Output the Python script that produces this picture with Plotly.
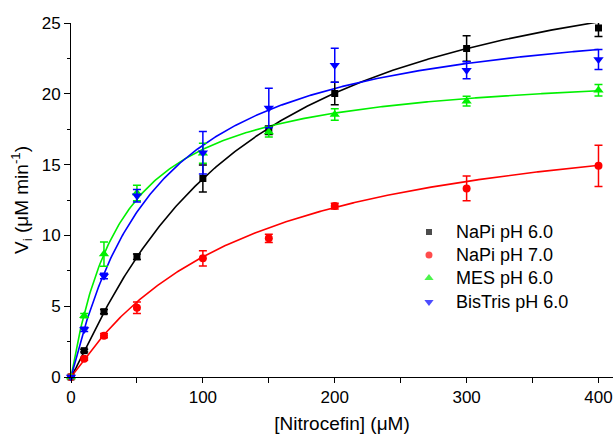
import numpy as np
import plotly.graph_objects as go

# ---- data ----
substrate = [0, 10, 25, 50, 100, 150, 200, 300, 400]

series_names = ["NaPi pH 6.0", "NaPi pH 7.0", "MES pH 6.0", "BisTris pH 6.0"]

napi60 = [0, 1.86, 4.61, 8.49, 14.02, 17.43, 20.02, 23.2, 24.65]
napi60_err = [0, 0.1, 0.15, 0.2, 0.95, 0.3, 0.8, 0.9, 0.6]

napi70 = [0, 1.29, 2.92, 4.89, 8.38, 9.79, 12.07, 13.32, 14.91]
napi70_err = [0, 0.1, 0.15, 0.41, 0.54, 0.3, 0.2, 0.88, 1.45]

mes60 = [0, 4.33, 8.68, 13.0, 15.8, 17.3, 18.54, 19.48, 20.25]
mes60_err = [0, 0.15, 0.86, 0.55, 0.7, 0.35, 0.4, 0.35, 0.4]

bistris60 = [0, 3.36, 7.13, 12.8, 15.83, 19.0, 22.02, 21.67, 22.42]
bistris60_err = [0, 0.15, 0.2, 0.45, 1.5, 1.4, 1.2, 0.6, 0.7]

# fitted (Hill / Michaelis-Menten type) curve parameters read from the drawn fits
fit_vmax = [32.0, 19.5, 22.0, 26.5]
fit_k = [125.4, 128.3, 37.9, 63.1]
fit_n = [1.11, 1.045, 1.03, 1.043]

x_ticks = [0, 100, 200, 300, 400]
y_ticks = [0, 5, 10, 15, 20, 25]

colors = ["#000000", "#ff0000", "#00f000", "#0000ff"]
symbols = ["square", "circle", "triangle-up", "triangle-down"]
sizes = [7, 8, 9, 9]

values = [napi60, napi70, mes60, bistris60]
errors = [napi60_err, napi70_err, mes60_err, bistris60_err]

# legend layout (fractions of the plot area)
legend_marker_x = 0.6605
legend_text_x = 0.706
legend_rows_y = [0.4096, 0.3446, 0.2797, 0.2119]

FONT = "Liberation Sans, Arial, sans-serif"

fig = go.Figure()

s_curve = np.linspace(0, 400, 401)
for i in range(4):
    v = fit_vmax[i] * s_curve ** fit_n[i] / (fit_k[i] ** fit_n[i] + s_curve ** fit_n[i])
    fig.add_trace(go.Scatter(
        x=s_curve, y=v, mode="lines",
        line=dict(color=colors[i], width=1.6),
        showlegend=False, hoverinfo="skip", cliponaxis=False,
    ))

for i in range(4):
    fig.add_trace(go.Scatter(
        x=substrate, y=values[i], mode="markers", name=series_names[i],
        marker=dict(color=colors[i], symbol=symbols[i], size=sizes[i], line=dict(width=0)),
        error_y=dict(type="data", array=errors[i], visible=True,
                     color=colors[i], thickness=1.5, width=4),
        cliponaxis=False, showlegend=False,
    ))

# manual legend keys
fig.add_trace(go.Scatter(
    x=[legend_marker_x] * 4, y=legend_rows_y, xaxis="x2", yaxis="y2",
    mode="markers", showlegend=False, hoverinfo="skip", cliponaxis=False,
    marker=dict(color=colors, symbol=symbols, size=[6, 7, 8, 8], line=dict(width=0)),
))
for i in range(4):
    fig.add_annotation(
        x=legend_text_x, y=legend_rows_y[i], xref="paper", yref="paper",
        text=series_names[i], showarrow=False, xanchor="left", yanchor="middle",
        font=dict(family=FONT, size=18, color="#000000"),
    )

fig.update_layout(
    width=614, height=435,
    margin=dict(l=71, r=1, t=23, b=58),
    paper_bgcolor="white", plot_bgcolor="white",
    font=dict(family=FONT, size=17, color="#000000"),
    showlegend=False,
    xaxis2=dict(overlaying="x", range=[0, 1], visible=False, fixedrange=True),
    yaxis2=dict(overlaying="y", range=[0, 1], visible=False, fixedrange=True),
    xaxis=dict(
        range=[0, 411], showline=True, linecolor="#000000", linewidth=1,
        ticks="outside", ticklen=5, tickwidth=1, tickcolor="#000000",
        tickvals=x_ticks, showgrid=False, zeroline=False,
        minor=dict(dtick=50, ticks="outside", ticklen=5, tickwidth=1, tickcolor="#000000", showgrid=False),
        tickfont=dict(size=17),
        title=dict(text="[Nitrocefin] (μM)", font=dict(size=19), standoff=10),
    ),
    yaxis=dict(
        range=[0, 25], showline=True, linecolor="#000000", linewidth=1,
        ticks="outside", ticklen=6, tickwidth=1, tickcolor="#000000",
        tickvals=y_ticks, showgrid=False, zeroline=False,
        minor=dict(dtick=2.5, ticks="outside", ticklen=3, tickwidth=1, tickcolor="#000000", showgrid=False),
        tickfont=dict(size=17),
        title=dict(text="V<sub>i</sub> (μM min<sup>-1</sup>)", font=dict(size=19), standoff=8),
    ),
)

fig.write_html("out.html", config={"displayModeBar": False},
               post_script="document.body.style.margin='0px';")
